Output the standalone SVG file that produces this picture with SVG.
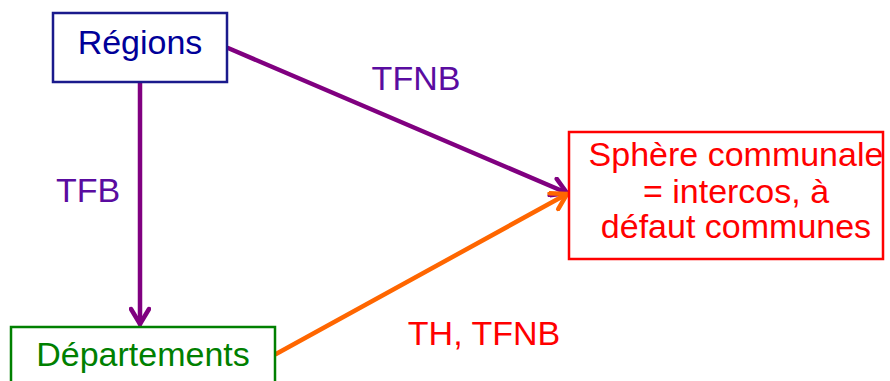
<svg xmlns="http://www.w3.org/2000/svg" width="890" height="381" viewBox="0 0 890 381">
<style>
text{font-family:"Liberation Sans",Arial,sans-serif;font-size:34px;text-anchor:middle}
.lbl{fill:#5a0ca0}
.box{fill:#fff;stroke-width:2.5}
.ln{fill:none;stroke-width:4.5;stroke-linecap:round}
</style>
<defs>
<marker id="ap" viewBox="0 0 22 22" refX="19" refY="11" markerWidth="22" markerHeight="22" markerUnits="userSpaceOnUse" orient="auto">
<path d="M4,2 L19,11 L4,20" fill="none" stroke="#800080" stroke-width="4.5" stroke-linecap="round" stroke-linejoin="round"/>
</marker>
<marker id="ao" viewBox="0 0 22 22" refX="19" refY="11" markerWidth="22" markerHeight="22" markerUnits="userSpaceOnUse" orient="auto">
<path d="M4,2 L19,11 L4,20" fill="none" stroke="#ff6600" stroke-width="4.5" stroke-linecap="round" stroke-linejoin="round"/>
</marker>
</defs>
<rect width="890" height="381" fill="#fff"/>
<g id="connectors">
<line class="ln" x1="140" y1="83" x2="140" y2="324" stroke="#800080" marker-end="url(#ap)"/>
<line class="ln" x1="228" y1="48" x2="567" y2="193" stroke="#800080" marker-end="url(#ap)"/>
<line class="ln" x1="276" y1="354" x2="567" y2="194" stroke="#ff6600" marker-end="url(#ao)"/>
<text class="lbl" x="416" y="90">TFNB</text>
<text class="lbl" x="88" y="202" font-size="33">TFB</text>
<text x="484" y="345" fill="#ff0000" font-size="35">TH, TFNB</text>
</g>
<g id="regions">
<rect class="box" x="53" y="13" width="174" height="69" stroke="#1a1a8c"/>
<text x="140" y="54" fill="#000099" font-size="32">Régions</text>
</g>
<g id="departements">
<rect class="box" x="11" y="327" width="264" height="70" stroke="#008000"/>
<text x="143" y="366" fill="#008000">Départements</text>
</g>
<g id="sphere">
<rect class="box" x="569" y="132" width="314" height="127" stroke="#ff0000"/>
<text x="736" y="166" fill="#ff0000" font-size="33">Sphère communale</text>
<text x="736" y="203" fill="#ff0000" font-size="33">= intercos, à</text>
<text x="736" y="238" fill="#ff0000" font-size="33">défaut communes</text>
</g>
</svg>
